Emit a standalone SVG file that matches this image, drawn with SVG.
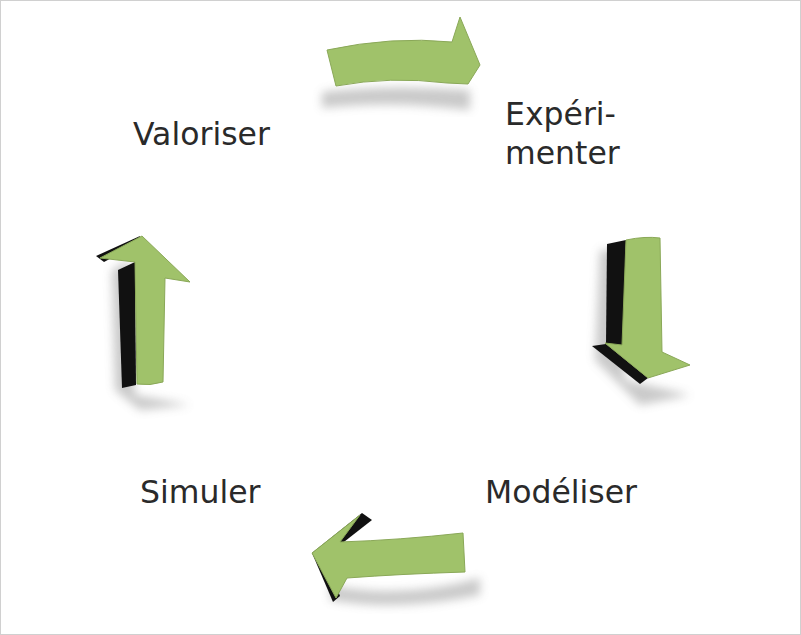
<svg xmlns="http://www.w3.org/2000/svg" width="801" height="635" viewBox="0 0 801 635">
<style>
.lbl{font-family:"DejaVu Sans","Liberation Sans",sans-serif;font-size:31.5px;fill:#2a2a2a}
.face{fill:#a0c26a;stroke:#8aa858;stroke-width:1}
.side{fill:#111}
.shd{fill:#888;opacity:.45;filter:url(#blur)}
</style>
<defs>
<filter id="blur" x="-30%" y="-30%" width="160%" height="160%"><feGaussianBlur stdDeviation="5"/></filter>
</defs>
<rect x="0.5" y="0.5" width="800" height="634" fill="#fff" stroke="#d0d0d0"/>
<g id="connectors">
  <g id="arrow-top">
    <path class="shd" d="M322,92 Q390,84 470,90 L470,110 Q390,100 322,108 Z"/>
    <path class="face" d="M327,50 Q392,36 452,42 L460,17 L480,65 L468,84 L447,83 Q390,76 336,86 Z"/>
  </g>
  <g id="arrow-right">
    <path class="shd" d="M600,250 L620,250 L625,380 L690,395 L640,405 L595,360 Z"/>
    <path class="side" d="M607,244 L626,240 L623,346 L606,344 Z"/>
    <path class="side" d="M592,346 L606,344 L648,378 L640,384 Z"/>
    <path class="face" d="M626,240 Q645,236 660,238 L662,352 L690,365 L648,378 L605,343 L622,345 Z"/>
  </g>
  <g id="arrow-bottom">
    <path class="shd" d="M330,585 Q400,600 480,578 L480,595 Q400,612 330,600 Z"/>
    <path class="side" d="M312,553 L362,513 L372,520 L326,556 Z"/>
    <path class="side" d="M312,553 L333,602 L340,596 L326,560 Z"/>
    <path class="face" d="M340,542 Q400,540 463,533 L465,572 Q400,574 347,578 L336,598 L312,553 L360,515 Z"/>
  </g>
  <g id="arrow-left">
    <path class="shd" d="M112,270 L130,260 L135,395 L190,405 L140,410 L115,390 Z"/>
    <path class="side" d="M118,270 L135,262 L136,385 L122,388 Z"/>
    <path class="side" d="M96,256 L140,236 L138,244 L104,262 Z"/>
    <path class="face" d="M135,262 L100,258 L142,236 L190,282 L165,278 L163,382 Q150,386 137,384 Z"/>
  </g>
</g>
<g id="node-valoriser"><text class="lbl" x="133" y="145">Valoriser</text></g>
<g id="node-experimenter"><text class="lbl" x="505" y="125">Expéri-</text><text class="lbl" x="505" y="164">menter</text></g>
<g id="node-modeliser"><text class="lbl" x="485" y="503">Modéliser</text></g>
<g id="node-simuler"><text class="lbl" x="140" y="503">Simuler</text></g>
</svg>
